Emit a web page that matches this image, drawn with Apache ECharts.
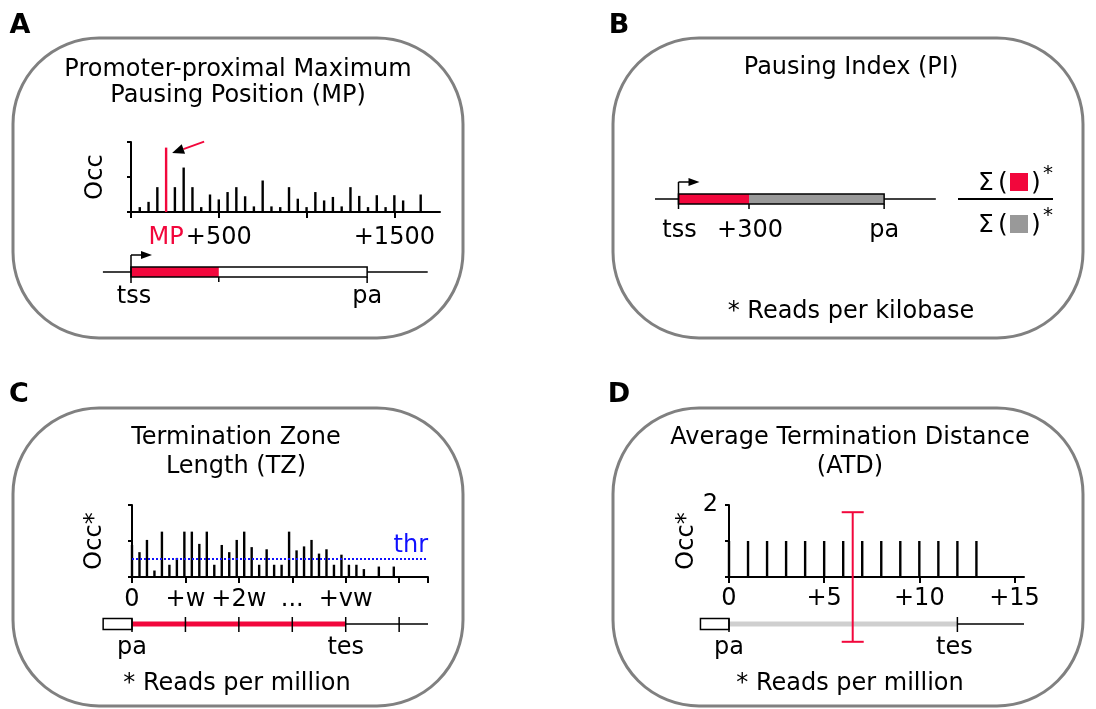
<!DOCTYPE html>
<html><head><meta charset="utf-8">
<script src="https://cdn.jsdelivr.net/npm/echarts@6/dist/echarts.min.js"></script>
<style>html,body{margin:0;padding:0;background:#fff}#c{width:1096px;height:709px}</style>
</head><body><div id="c"></div>
<script>
// ---------- Panel A: promoter-proximal maximum pausing ----------
const posA = [50,100,150,200,250,300,350,400,450,500,550,600,650,700,750,800,850,900,950,1000,1050,1100,1150,1200,1250,1300,1350,1400,1450,1500,1550,1600,1650];
const occA = [0.14,0.29,0.71,1.84,0.71,1.27,0.71,0.14,0.50,0.36,0.57,0.71,0.45,0.16,0.90,0.16,0.14,0.71,0.38,0.14,0.57,0.33,0.43,0.16,0.71,0.46,0.14,0.48,0.14,0.48,0.33,0,0.50];
const mpPos = 200;
const labelValsA = [200,500,1500];
const labelsA = ['MP','+500','+1500'];
const tickValsA = [0,500,1000,1500];
const geneALine = [-160,1690];
const tssA = 0, pauseEndA = 500, paA = 1345;

// ---------- Panel B: pausing index ----------
const geneBLine = [-100,1095];
const tssB = 0, pauseEndB = 300, paB = 875;
const geneBLabels = ['tss','+300','pa'];

// ---------- Panel C: termination zone ----------
const posC = [0,7,14,21,28,35,42,49,56,63,70,77,84,91,98,105,112,119,126,133,140,147,154,161,168,175,182,189,196,203,210,217,224,231,238,245];
const occC = [0.89,0.69,1.03,0.18,1.26,0.34,0.53,1.26,1.26,0.92,1.26,0.34,0.89,0.69,1.03,1.26,0.83,0.34,0.77,0.34,0.34,1.26,0.74,0.85,1.03,0.65,0.77,0.34,0.62,0.34,0.34,0.22,0,0.29,0,0.29];
const thrC = 0.51;
const labelValsC = [0,50,100,150,200];
const labelsC = ['0','+w','+2w','...','+vw'];
const geneCLine = [-27,277];
const paC = 0, tesC = 200;
const windowTicksC = [50,100,150,200,250];

// ---------- Panel D: average termination distance ----------
const posD = [0,1,2,3,4,5,6,7,8,9,10,11,12,13];
const occD = [1,1,1,1,1,1,1,1,1,1,1,1,1,1];
const atdMean = 6.5, atdErr = 1.8;
const geneDLine = [-1.5,15.5];
const paD = 0, tesD = 12;

const FONT = "'DejaVu Sans', sans-serif";
const RED = '#f2073c';
const GRAY_BOX = '#808080';

const chart = echarts.init(document.getElementById('c'), null, {renderer:'canvas'});

function ln(x1,y1,x2,y2,color,w){return {type:'line',shape:{x1,y1,x2,y2},style:{stroke:color,lineWidth:w}};}
function txt(x,y,t,color,size,align){return {type:'text',x,y,style:{text:t,fill:color||'#000',fontSize:size||24,fontFamily:FONT,align:align||'center',verticalAlign:'middle'}};}

function renderGeneA(params, api){
  const c = v => api.coord([v,0])[0];
  const y0 = api.coord([0,0])[1];
  const xT=c(tssA), xM=c(pauseEndA), xP=c(paA);
  return {type:'group', children:[
    ln(c(geneALine[0]),y0,c(geneALine[1]),y0,'#000',1.5),
    {type:'rect',shape:{x:xT,y:y0-5,width:xP-xT,height:10},style:{fill:'#fff'}},
    {type:'rect',shape:{x:xT,y:y0-5,width:xM-xT,height:10},style:{fill:RED}},
    {type:'rect',shape:{x:xT,y:y0-5,width:xP-xT,height:10},style:{fill:null,stroke:'#000',lineWidth:1.5}},
    ln(xT,y0-17,xT,y0+11,'#000',1.5),
    ln(xT,y0-17,xT+12,y0-17,'#000',1.5),
    {type:'polygon',shape:{points:[[xT+10,y0-21],[xT+21,y0-17],[xT+10,y0-13]]},style:{fill:'#000'}},
    ln(xM,y0+5,xM,y0+10,'#000',1.5),
    ln(xP,y0+5,xP,y0+11,'#000',1.5),
    txt(xT+3,y0+25,'tss'),
    txt(xP,y0+25,'pa')
  ]};
}
function renderGeneB(params, api){
  const c = v => api.coord([v,0])[0];
  const y0 = api.coord([0,0])[1];
  const xT=c(tssB), xM=c(pauseEndB), xP=c(paB);
  return {type:'group', children:[
    ln(c(geneBLine[0]),y0,c(geneBLine[1]),y0,'#000',1.5),
    {type:'rect',shape:{x:xT,y:y0-5,width:xM-xT,height:10},style:{fill:RED}},
    {type:'rect',shape:{x:xM,y:y0-5,width:xP-xM,height:10},style:{fill:'#999999'}},
    {type:'rect',shape:{x:xT,y:y0-5,width:xP-xT,height:10},style:{fill:null,stroke:'#000',lineWidth:1.5}},
    ln(xT,y0-17,xT,y0+10,'#000',1.5),
    ln(xT,y0-17,xT+12,y0-17,'#000',1.5),
    {type:'polygon',shape:{points:[[xT+10,y0-21],[xT+21,y0-17],[xT+10,y0-13]]},style:{fill:'#000'}},
    ln(xM,y0+5,xM,y0+10,'#000',1.5),
    ln(xP,y0+5,xP,y0+10,'#000',1.5),
    txt(xT+1,y0+32,geneBLabels[0]),
    txt(xM+1,y0+32,geneBLabels[1]),
    txt(xP,y0+32,geneBLabels[2])
  ]};
}
function renderGeneC(params, api){
  const c = v => api.coord([v,0])[0];
  const y0 = api.coord([0,0])[1];
  const xB=c(geneCLine[0]), xP=c(paC), xE=c(tesC), xR=c(geneCLine[1]);
  const ch = [
    ln(xP,y0,xR,y0,'#000',1.5),
    ln(xP,y0,xE,y0,RED,5),
    {type:'rect',shape:{x:xB,y:y0-5.5,width:xP-xB,height:11},style:{fill:'#fff',stroke:'#000',lineWidth:1.5}},
    ln(xP,y0-5.5,xP,y0+8,'#000',1.5)
  ];
  windowTicksC.forEach(v=>{const x=c(v); ch.push(ln(x,y0-7,x,y0+8,'#000',1.5));});
  ch.push(txt(xP,y0+24,'pa'), txt(xE,y0+24,'tes'));
  return {type:'group',children:ch};
}
function renderGeneD(params, api){
  const c = v => api.coord([v,0])[0];
  const y0 = api.coord([0,0])[1];
  const xB=c(geneDLine[0]), xP=c(paD), xE=c(tesD), xR=c(geneDLine[1]);
  return {type:'group',children:[
    ln(xE,y0,xR,y0,'#000',1.5),
    ln(xP,y0,xE,y0,'#cfcfcf',5),
    {type:'rect',shape:{x:xB,y:y0-5.5,width:xP-xB,height:11},style:{fill:'#fff',stroke:'#000',lineWidth:1.5}},
    ln(xP,y0-5.5,xP,y0+8,'#000',1.5),
    ln(xE,y0-7,xE,y0+8,'#000',1.5),
    txt(xP,y0+24,'pa'),
    txt(xE-3,y0+24,'tes')
  ]};
}
function renderPointer(params, api){
  const p = api.coord([api.value(0), api.value(1)]);
  const tip=[p[0]+6,p[1]+5.5], tail=[p[0]+38,p[1]-6];
  const dx=tail[0]-tip[0], dy=tail[1]-tip[1], L=Math.hypot(dx,dy), ux=dx/L, uy=dy/L;
  const bx=tip[0]+ux*12, by=tip[1]+uy*12;
  return {type:'group',children:[
    ln(tail[0],tail[1],bx,by,RED,1.8),
    {type:'polygon',shape:{points:[tip,[bx-uy*5,by+ux*5],[bx+uy*5,by-ux*5]]},style:{fill:'#000'}}
  ]};
}
function renderErr(params, api){
  const lo = api.coord([api.value(0), api.value(1)]);
  const hi = api.coord([api.value(0), api.value(2)]);
  return {type:'group',children:[
    ln(lo[0],lo[1],hi[0],hi[1],RED,2),
    ln(hi[0]-11,hi[1],hi[0]+11,hi[1],RED,2),
    ln(lo[0]-11,lo[1],lo[0]+11,lo[1],RED,2)
  ]};
}

const axisLineStyle = {show:true, lineStyle:{color:'#000', width:2}};
function chartY(gi, nameTxt, gap, offset, showMax){
  return {type:'value', gridIndex:gi, min:0, max:2, interval:1, offset:offset,
    axisLine:axisLineStyle, axisTick:{show:true,length:4,lineStyle:{color:'#000',width:2}},
    splitLine:{show:false},
    axisLabel: showMax ? {show:true, color:'#000', fontSize:24, fontFamily:FONT, margin:5, formatter:v=>v===2?'2':''} : {show:false},
    name:nameTxt, nameLocation:'middle', nameGap:gap, nameRotate:90,
    nameTextStyle:{color:'#000', fontSize:24, fontFamily:FONT}};
}
function hiddenX(gi,min,max){return {type:'value',gridIndex:gi,min,max,show:false};}
function hiddenY(gi){return {type:'value',gridIndex:gi,min:-1,max:1,show:false};}

const graphics = [];
[[13,38],[613,38],[13,408],[613,408]].forEach((p,i)=>{
  graphics.push({type:'rect',shape:{x:p[0],y:p[1],width:i%2?470:450,height:i<2?300:298,r:86},style:{fill:null,stroke:GRAY_BOX,lineWidth:3},z:-10});
});
[['A',20,26],['B',619,26],['C',19,395],['D',619,395]].forEach(l=>{
  graphics.push({type:'text',x:l[1],y:l[2],style:{text:l[0],fontSize:27,fontWeight:'bold',fontFamily:FONT,fill:'#000',align:'center',verticalAlign:'middle'}});
});
function gt(t,x,y,size,align,color){graphics.push({type:'text',x,y,style:{text:t,fontSize:size||24,fontFamily:FONT,fill:color||'#000',align:align||'center',verticalAlign:'middle'}});}
gt('Promoter-proximal Maximum',238,70);
gt('Pausing Position (MP)',238,96);
gt('Pausing Index (PI)',851,68);
gt('* Reads per kilobase',851,312);
gt('Termination Zone',236,438);
gt('Length (TZ)',236,467);
gt('* Reads per million',237,684);
gt('Average Termination Distance',850,438);
gt('(ATD)',850,467);
gt('* Reads per million',850,684);
// PI fraction
graphics.push({type:'line',shape:{x1:958,y1:199,x2:1053,y2:199},style:{stroke:'#000',lineWidth:2}});
[[183,RED],[225,'#999999']].forEach(r=>{
  const y=r[0];
  gt('Σ',986,y,25);
  gt('(',1003,y,25);
  graphics.push({type:'rect',shape:{x:1010,y:y-10,width:18,height:18},style:{fill:r[1]}});
  gt(')',1036,y,25);
  gt('*',1048,y-9,20);
});

const option = {
  animation:false,
  backgroundColor:'#fff',
  textStyle:{fontFamily:FONT},
  grid:[
    {left:131,top:142,width:309,height:70},
    {left:131,top:262,width:309,height:20},
    {left:655,top:189,width:282,height:20},
    {left:132,top:505,width:296,height:72},
    {left:132,top:614,width:296,height:20},
    {left:729,top:505,width:295,height:72},
    {left:729,top:614,width:295,height:20}
  ],
  xAxis:[
    {type:'value',gridIndex:0,min:0,max:1760,splitLine:{show:false},axisLine:axisLineStyle,
      axisTick:{show:true,length:6,customValues:tickValsA,lineStyle:{color:'#000',width:2}},
      axisLabel:{customValues:labelValsA,color:'#000',fontSize:24,fontFamily:FONT,margin:14,
        formatter:v=>{const i=labelValsA.indexOf(v); return v===mpPos?'{mp|'+labelsA[i]+'}':labelsA[i];},
        rich:{mp:{color:RED,fontSize:24,fontFamily:FONT}}}},
    hiddenX(1,0,1760),
    hiddenX(2,-100,1100),
    {type:'value',gridIndex:3,min:0,max:277,interval:50,splitLine:{show:false},axisLine:axisLineStyle,
      axisTick:{show:true,length:6,lineStyle:{color:'#000',width:2}},
      axisLabel:{customValues:labelValsC,color:'#000',fontSize:24,fontFamily:FONT,margin:11,
        formatter:v=>labelsC[labelValsC.indexOf(v)]}},
    hiddenX(4,0,277),
    {type:'value',gridIndex:5,min:0,max:15.5,interval:5,splitLine:{show:false},axisLine:axisLineStyle,
      axisTick:{show:true,length:6,lineStyle:{color:'#000',width:2}},
      axisLabel:{color:'#000',fontSize:24,fontFamily:FONT,margin:10,showMaxLabel:false,
        formatter:v=>v===0?'0':'+'+v}},
    hiddenX(6,0,15.5)
  ],
  yAxis:[
    chartY(0,'Occ',20,3,false),
    hiddenY(1),
    hiddenY(2),
    chartY(3,'Occ*',20,5,false),
    hiddenY(4),
    chartY(5,'Occ*',15,6,true),
    hiddenY(6)
  ],
  series:[
    {type:'bar',xAxisIndex:0,yAxisIndex:0,barWidth:2.4,
      data:posA.map((x,i)=>({value:[x,occA[i]],itemStyle:{color:x===mpPos?RED:'#000'}}))},
    {type:'custom',xAxisIndex:0,yAxisIndex:0,clip:false,renderItem:renderPointer,
      data:[[mpPos,occA[posA.indexOf(mpPos)]]]},
    {type:'custom',xAxisIndex:1,yAxisIndex:1,clip:false,renderItem:renderGeneA,data:[[0,0]]},
    {type:'custom',xAxisIndex:2,yAxisIndex:2,clip:false,renderItem:renderGeneB,data:[[0,0]]},
    {type:'bar',xAxisIndex:3,yAxisIndex:3,barWidth:2.4,itemStyle:{color:'#000'},
      data:posC.map((x,i)=>[x,occC[i]]),
      markLine:{silent:true,symbol:'none',data:[{yAxis:thrC}],
        lineStyle:{type:'dotted',color:'#1010ff',width:2},
        label:{formatter:'thr',position:'insideEndTop',color:'#1010ff',fontSize:24,fontFamily:FONT,distance:[0,1]}}},
    {type:'custom',xAxisIndex:4,yAxisIndex:4,clip:false,renderItem:renderGeneC,data:[[0,0]]},
    {type:'bar',xAxisIndex:5,yAxisIndex:5,barWidth:2.4,itemStyle:{color:'#000'},
      data:posD.map((x,i)=>[x,occD[i]])},
    {type:'custom',xAxisIndex:5,yAxisIndex:5,clip:false,renderItem:renderErr,z:5,
      data:[[atdMean,-atdErr,atdErr]]},
    {type:'custom',xAxisIndex:6,yAxisIndex:6,clip:false,renderItem:renderGeneD,data:[[0,0]]}
  ],
  graphic:graphics
};
chart.setOption(option);
</script>
</body></html>
